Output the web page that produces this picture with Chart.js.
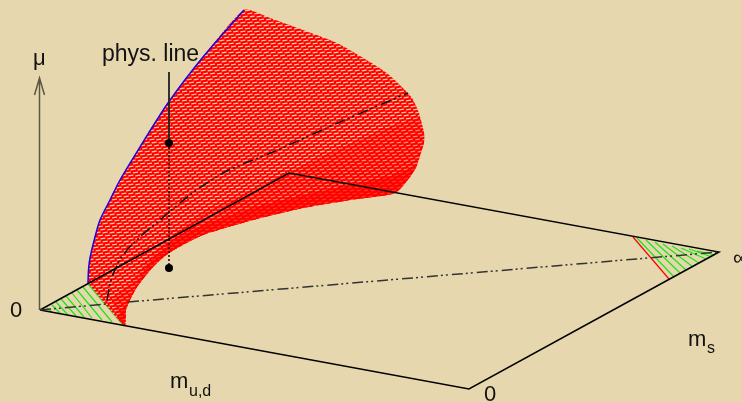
<!DOCTYPE html>
<html>
<head>
<meta charset="utf-8">
<title>phys. line</title>
<script src="https://cdn.jsdelivr.net/npm/chart.js@4"></script>
<style>
    html, body { margin: 0; padding: 0; background: #e7d7ae; overflow: hidden; }
    canvas { display: block; }
</style>
</head>
<body>
<canvas id="chart" width="742" height="402"></canvas>
<script>
const planeX = [40, 289, 719, 469, 40];
const planeY = [310, 173, 252, 389, 310];

const muAxisX = [39.5, 39.5, null, 34.5, 39.5, 44.5];
const muAxisY = [310, 78, null, 95, 78, 95];

// hatching in the two corners of the plane, null breaks the line
const hatchX = [47, 52, null, 52, 60, null, 56, 68, null, 61, 77, null, 66, 84, null, 72, 92, null, 77, 102, null, 83, 112, null, 88, 124, null,
    637, 674, null, 646, 680, null, 655, 686, null, 663, 693, null, 672, 699, null, 681, 706, null, 689, 712, null, 697, 715];
const hatchY = [308, 312, null, 305, 313, null, 302, 315, null, 299, 317, null, 296, 317, null, 293, 318, null, 290, 320, null, 287, 322, null, 284, 326, null,
    238, 277, null, 240, 273, null, 242, 270, null, 244, 267, null, 246, 263, null, 248, 259, null, 249, 257, null, 251, 255];

const cutEdgeX = [633, 669];
const cutEdgeY = [237, 279];

// outline of the red surface
const surfaceX = [88, 88.5, 90, 95, 100, 110, 120, 140, 168, 203, 244, 270, 303, 337, 370, 388, 403, 412, 419, 424, 424, 421, 417, 410, 395, 350, 303, 253, 203, 169, 153, 137, 130, 126, 125, 88];
const surfaceY = [283, 270, 258, 237, 220, 200, 180, 147, 103, 57, 10, 18, 30, 43, 62, 74, 88, 98, 113, 133, 143, 153, 165, 177, 193, 200, 208, 220, 235, 253, 267, 287, 300, 310, 326, 283];

// where the mesh gets tighter
const denseX = [125, 126, 130, 137, 153, 169, 203, 253, 303, 350, 395, 410, 417, 421, 424, 424, 418, 370, 303, 230, 203, 163, 130, 112, 125];
const denseY = [326, 310, 300, 287, 267, 253, 235, 220, 208, 200, 193, 177, 165, 153, 143, 133, 118, 135, 165, 200, 213, 243, 283, 300, 326];
const solidX = [125, 126, 130, 137, 153, 169, 203, 253, 303, 350, 395, 410, 417, 395, 350, 303, 253, 203, 175, 150, 128, 118, 125];
const solidY = [326, 310, 300, 287, 267, 253, 235, 220, 208, 200, 193, 177, 165, 175, 185, 195, 208, 225, 240, 262, 300, 318, 326];

const blueEdgeX = [88, 88.5, 90, 95, 100, 110, 120, 140, 168, 203, 244];
const blueEdgeY = [283, 270, 258, 237, 220, 200, 180, 147, 103, 57, 10];

const diagonalX = [40, 107, null, 128, 719];
const diagonalY = [310, 304, null, 302, 252];

const surfaceCurveX = [107, 112, 123, 140, 160, 190, 225, 273, 340, 408];
const surfaceCurveY = [300, 277, 255, 237, 220, 195, 172, 152, 122, 93];

const physLeaderX = [169, 169];
const physLeaderY = [72, 143];
const physDottedX = [169, 169];
const physDottedY = [143, 268];
const physPointX = [169, 169];
const physPointY = [143, 268];

const labelTexts = ['phys. line', 'μ', '0', 'm', 'u,d', '0', 'm', 's', '∞'];
const labelX = [102, 33, 10, 170, 189, 484, 688, 707, 733];
const labelY = [61, 65, 317, 388, 396, 401, 346, 353, 265];
const labelSizes = [23, 22, 22, 22, 16, 22, 22, 16, 22];

function points(xs, ys) {
    return xs.map((x, i) => ({ x: x, y: ys[i] }));
}

// the mesh is too fine to draw line by line, so it goes in as a tile
function meshPattern(dashColor, dashLength) {
    const tile = document.createElement('canvas');
    tile.width = 14;
    tile.height = 9;
    const ctx = tile.getContext('2d');
    ctx.fillStyle = '#ff0000';
    ctx.fillRect(0, 0, 14, 9);
    ctx.strokeStyle = dashColor;
    ctx.lineWidth = 1.4;
    const rows = [[1.5, 0], [4.5, 2.33], [7.5, 4.67]];
    rows.forEach(row => {
        for (let x = row[1] - 7; x < 14; x += 7) {
            ctx.beginPath();
            ctx.moveTo(x, row[0] + 0.4);
            ctx.lineTo(x + dashLength, row[0] - 0.4);
            ctx.stroke();
        }
    });
    return document.createElement('canvas').getContext('2d').createPattern(tile, 'repeat');
}

// plain text placed through the scales
const textLabels = {
    id: 'textLabels',
    afterDatasetsDraw(chart) {
        const ctx = chart.ctx;
        ctx.save();
        ctx.fillStyle = '#111111';
        ctx.textBaseline = 'alphabetic';
        labelTexts.forEach((text, i) => {
            ctx.font = labelSizes[i] + 'px "Liberation Sans"';
            ctx.fillText(text, chart.scales.x.getPixelForValue(labelX[i]), chart.scales.y.getPixelForValue(labelY[i]));
        });
        ctx.restore();
    }
};

function lineSet(xs, ys, color, width, order, dash) {
    return {
        data: points(xs, ys),
        showLine: true,
        borderColor: color,
        borderWidth: width,
        borderDash: dash || [],
        pointRadius: 0,
        order: order
    };
}

function areaSet(xs, ys, fillStyle, order) {
    return {
        data: points(xs, ys),
        showLine: true,
        fill: 'shape',
        backgroundColor: fillStyle,
        borderWidth: 0,
        pointRadius: 0,
        tension: 0.2,
        order: order
    };
}

const dashDot = [11, 3, 2, 3, 2, 4];

const curvedEdge = lineSet(blueEdgeX, blueEdgeY, '#1a00e0', 1.5, 6);
curvedEdge.tension = 0.3;
const curvedLine = lineSet(surfaceCurveX, surfaceCurveY, '#111111', 1.5, 7, dashDot);
curvedLine.tension = 0.3;

new Chart(document.getElementById('chart'), {
    type: 'scatter',
    data: {
        datasets: [
            lineSet(muAxisX, muAxisY, '#5d5843', 1.5, 20),
            lineSet(hatchX, hatchY, '#19e619', 1.2, 19),
            lineSet(cutEdgeX, cutEdgeY, '#ff0000', 1.2, 18),
            areaSet(surfaceX, surfaceY, meshPattern('#fbc6a0', 5), 17),
            areaSet(denseX, denseY, meshPattern('#ff8a68', 4.5), 16),
            areaSet(solidX, solidY, meshPattern('#ff3a22', 4), 15),
            lineSet(planeX, planeY, '#000000', 1.5, 9),
            lineSet(diagonalX, diagonalY, '#333333', 1.5, 8, dashDot),
            curvedLine,
            curvedEdge,
            lineSet(physLeaderX, physLeaderY, '#222222', 1.8, 5),
            lineSet(physDottedX, physDottedY, '#220000', 1.5, 4, [2, 2]),
            {
                data: points(physPointX, physPointY),
                showLine: false,
                pointRadius: 4,
                pointBackgroundColor: '#000000',
                pointBorderWidth: 0,
                order: 3
            }
        ]
    },
    options: {
        responsive: false,
        animation: false,
        layout: { padding: 0, autoPadding: false },
        plugins: { legend: { display: false }, tooltip: { enabled: false } },
        scales: {
            x: { type: 'linear', display: false, min: 0, max: 742 },
            y: { type: 'linear', display: false, min: 0, max: 402, reverse: true }
        }
    },
    plugins: [textLabels]
});
</script>
</body>
</html>
